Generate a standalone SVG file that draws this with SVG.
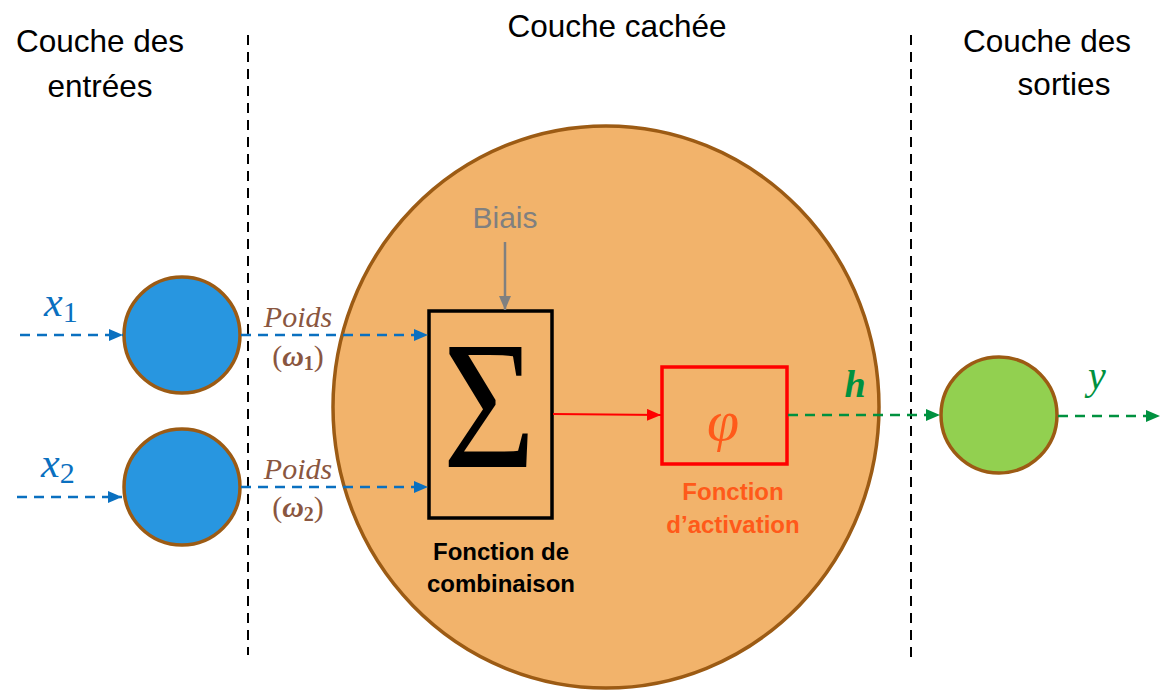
<svg xmlns="http://www.w3.org/2000/svg" width="1160" height="691" viewBox="0 0 1160 691">
  <defs>
    <marker id="arrBlue" viewBox="0 0 14 12" refX="14" refY="6" markerWidth="14" markerHeight="12" markerUnits="userSpaceOnUse" orient="auto">
      <path d="M0,0 L14,6 L0,12 Z" fill="#0a70c0"/>
    </marker>
    <marker id="arrGreen" viewBox="0 0 14 12" refX="14" refY="6" markerWidth="14" markerHeight="12" markerUnits="userSpaceOnUse" orient="auto">
      <path d="M0,0 L14,6 L0,12 Z" fill="#00913f"/>
    </marker>
    <marker id="arrRed" viewBox="0 0 14 12" refX="14" refY="6" markerWidth="14" markerHeight="12" markerUnits="userSpaceOnUse" orient="auto">
      <path d="M0,0 L14,6 L0,12 Z" fill="#ff0000"/>
    </marker>
    <marker id="arrGray" viewBox="0 0 14 12" refX="14" refY="6" markerWidth="14" markerHeight="12" markerUnits="userSpaceOnUse" orient="auto">
      <path d="M0,0 L14,6 L0,12 Z" fill="#808080"/>
    </marker>
  </defs>
  <style>
    .title { font-family: "Liberation Sans", Arial, sans-serif; font-size: 31.5px; fill: #000; text-anchor: middle; }
    .sep { stroke: #000; stroke-width: 2; stroke-dasharray: 10 7; fill: none; }
    .neuron { stroke: #9c5b14; stroke-width: 3.5; }
    .blue { stroke: #0a70c0; stroke-width: 2.5; stroke-dasharray: 10 7; fill: none; }
    .green { stroke: #00913f; stroke-width: 2.5; stroke-dasharray: 10 7; fill: none; }
    .math { font-family: "Liberation Serif", "DejaVu Serif", serif; font-style: italic; }
    .poids { font-family: "Liberation Serif", "DejaVu Serif", serif; fill: #8a5640; font-size: 30px; text-anchor: middle; }
    .label { font-family: "Liberation Sans", Arial, sans-serif; font-weight: bold; font-size: 24px; text-anchor: middle; }
  </style>

  <!-- layer separators -->
  <line class="sep" x1="248" y1="35" x2="248" y2="655"/>
  <line class="sep" x1="911" y1="35" x2="911" y2="660"/>

  <!-- layer titles -->
  <g id="titles">
    <text class="title" x="100" y="52">Couche des</text>
    <text class="title" x="100" y="97">entrées</text>
    <text class="title" x="617" y="37">Couche cachée</text>
    <text class="title" x="1047" y="52">Couche des</text>
    <text class="title" x="1064" y="95">sorties</text>
  </g>

  <!-- hidden neuron -->
  <g id="hidden">
    <ellipse class="neuron" cx="606" cy="407" rx="273" ry="281" fill="#f2b36b"/>
  </g>

  <!-- input neurons -->
  <g id="input1">
    <circle class="neuron" cx="182" cy="335" r="58" fill="#2896e0"/>
  </g>
  <g id="input2">
    <circle class="neuron" cx="182" cy="487" r="58" fill="#2896e0"/>
  </g>

  <!-- output neuron -->
  <g id="output">
    <circle class="neuron" cx="999" cy="415" r="58" fill="#92d050"/>
  </g>

  <!-- combination function -->
  <g id="sum">
    <rect x="429" y="311" width="123" height="207" fill="none" stroke="#000" stroke-width="3.5"/>
    <text x="489" y="467" font-family="Liberation Serif, DejaVu Serif, serif" font-size="182" text-anchor="middle" fill="#000" transform="translate(489 0) scale(0.88 1) translate(-489 0)">Σ</text>
    <text class="label" x="501" y="560" fill="#000">Fonction de</text>
    <text class="label" x="501" y="592" fill="#000">combinaison</text>
  </g>

  <!-- activation function -->
  <g id="activation">
    <rect x="662" y="367" width="125" height="97" fill="none" stroke="#ff0000" stroke-width="3.5"/>
    <text class="math" x="723" y="440" font-size="58" text-anchor="middle" fill="#ff5a1a">φ</text>
    <text class="label" x="733" y="500" fill="#ff5a1a">Fonction</text>
    <text class="label" x="733" y="533" fill="#ff5a1a">d’activation</text>
  </g>

  <!-- bias -->
  <g id="bias">
    <text x="505" y="228" font-family="Liberation Sans, Arial, sans-serif" font-size="30" text-anchor="middle" fill="#808080">Biais</text>
  </g>

  <!-- connectors -->
  <g id="connectors">
    <line class="blue" x1="20" y1="335" x2="123" y2="335" marker-end="url(#arrBlue)"/>
    <line class="blue" x1="17" y1="497" x2="122" y2="497" marker-end="url(#arrBlue)"/>
    <line class="blue" x1="241" y1="335" x2="428" y2="335" marker-end="url(#arrBlue)"/>
    <line class="blue" x1="241" y1="487" x2="428" y2="487" marker-end="url(#arrBlue)"/>
    <line x1="505" y1="242" x2="505" y2="310" stroke="#808080" stroke-width="2.5" marker-end="url(#arrGray)"/>
    <line x1="553" y1="414" x2="661" y2="415" stroke="#ff0000" stroke-width="2" marker-end="url(#arrRed)"/>
    <line class="green" x1="788" y1="415" x2="940" y2="415" marker-end="url(#arrGreen)"/>
    <line class="green" x1="1058" y1="416" x2="1160" y2="416" marker-end="url(#arrGreen)"/>
  </g>

  <!-- signal labels -->
  <g id="labels">
    <text class="math" x="44" y="316" font-size="42" fill="#0a70c0">x<tspan font-style="normal" font-size="30" dy="6">1</tspan></text>
    <text class="math" x="41" y="477" font-size="42" fill="#0a70c0">x<tspan font-style="normal" font-size="30" dy="6">2</tspan></text>
    <text class="poids" x="298" y="327" font-style="italic">Poids</text>
    <text class="poids" x="298" y="366">(<tspan font-weight="bold" font-style="italic">ω</tspan><tspan font-weight="bold" font-size="20" dy="4">1</tspan><tspan dy="-4">)</tspan></text>
    <text class="poids" x="298" y="479" font-style="italic">Poids</text>
    <text class="poids" x="298" y="517">(<tspan font-weight="bold" font-style="italic">ω</tspan><tspan font-weight="bold" font-size="20" dy="4">2</tspan><tspan dy="-4">)</tspan></text>
    <text class="math" x="855" y="397" font-size="38" font-weight="bold" text-anchor="middle" fill="#00913f">h</text>
    <text class="math" x="1097" y="389" font-size="40" text-anchor="middle" fill="#00913f">y</text>
  </g>
</svg>
